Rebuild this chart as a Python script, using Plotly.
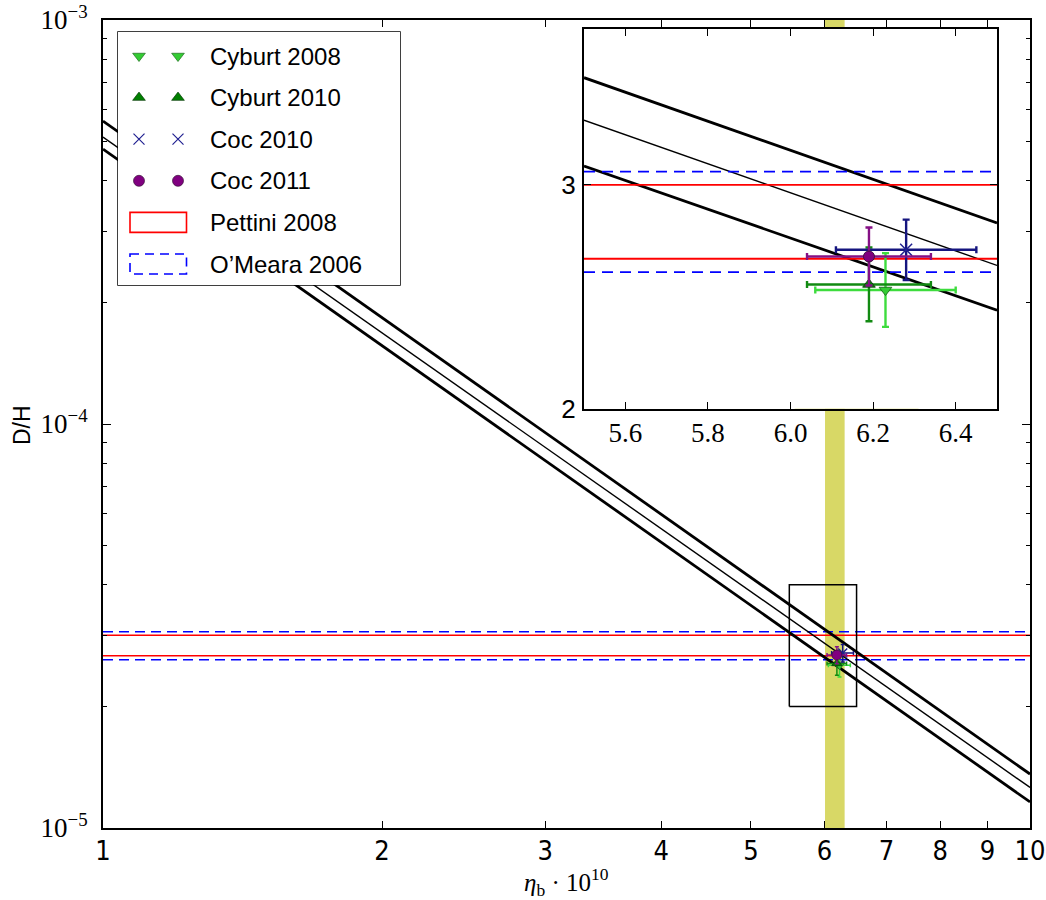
import plotly.graph_objects as go

# ---- data -----------------------------------------------------------------
# BBN prediction for D/H versus eta_b (central value and 1-sigma envelope)
eta_main = [1.0, 10.0]
dh_high_main = [5.62e-4, 1.36e-5]
dh_mid_main = [5.13e-4, 1.26e-5]
dh_low_main = [4.79e-4, 1.16e-5]

# same prediction inside the zoomed window (D/H in units of 1e-5)
eta_zoom = [5.5, 6.5]
dh_high_zoom = [3.48, 2.83]
dh_mid_zoom = [3.29, 2.64]
dh_low_zoom = [3.085, 2.44]

# WMAP baryon density band
eta_band = [6.01, 6.31]

# observed D/H ranges (units of 1e-5)
pettini_2008 = [2.67, 3.00]
omeara_2006 = [2.61, 3.06]

# network calculations
series_names = ["Cyburt 2008", "Cyburt 2010", "Coc 2010", "Coc 2011"]
series_eta = [6.23, 6.19, 6.28, 6.19]
series_eta_err = [0.17, 0.15, 0.17, 0.15]
series_dh = [2.53, 2.555, 2.71, 2.68]
series_dh_err = [0.165, 0.165, 0.135, 0.13]

# zoom window drawn on the main panel
zoom_eta = [5.5, 6.5]
zoom_dh = [2.0e-5, 4.0e-5]

# tick labels
x_main_ticks = [1, 2, 3, 4, 5, 6, 7, 8, 9, 10]
y_main_ticks = [1e-5, 1e-4, 1e-3]
y_main_ticktext = ["10<sup>\u22125</sup>", "10<sup>\u22124</sup>", "10<sup>\u22123</sup>"]
x_zoom_ticks = [5.6, 5.8, 6.0, 6.2, 6.4]
x_zoom_ticktext = ["5.6", "5.8", "6.0", "6.2", "6.4"]
y_zoom_ticks = [2, 3]

# ---- styles ---------------------------------------------------------------
SANS_N = "DejaVu Sans Condensed, Liberation Sans Narrow, Liberation Sans, Arial, sans-serif"
SANS_W = "Liberation Sans, Arial, sans-serif"
SERIF = "Liberation Serif, DejaVu Serif, serif"
BAND = "rgb(216,216,102)"

styles = {
    "Cyburt 2008": dict(symbol="triangle-down", fill="#33cc33", edge="#1d6b1d", err="#3ddc3d"),
    "Cyburt 2010": dict(symbol="triangle-up", fill="#008000", edge="#0b3d0b", err="#128a12"),
    "Coc 2010": dict(symbol="x-thin", fill="#202090", edge="#202090", err="#15157f"),
    "Coc 2011": dict(symbol="circle", fill="#800080", edge="#3a103a", err="#851085"),
}

W, H = 1046, 900
ML, MR, MT, MB = 103, 16, 20, 72
PW, PH = W - ML - MR, H - MT - MB


def px_x(px):
    return (px - ML) / PW


def px_y(py):
    return (H - MB - py) / PH


fig = go.Figure()

# ---- main panel -------------------------------------------------------------
for lo_hi, col, dash in ((pettini_2008, "red", "solid"), (omeara_2006, "blue", "dash")):
    for v in lo_hi:
        fig.add_trace(go.Scatter(x=eta_main, y=[v * 1e-5, v * 1e-5], mode="lines",
                                 line=dict(color=col, width=1.6,
                                           dash="solid" if dash == "solid" else "10px,6px"),
                                 xaxis="x", yaxis="y", showlegend=False, hoverinfo="skip"))

for ys, w in ((dh_high_main, 2.8), (dh_mid_main, 1.4), (dh_low_main, 2.8)):
    fig.add_trace(go.Scatter(x=eta_main, y=ys, mode="lines", line=dict(color="black", width=w),
                             xaxis="x", yaxis="y", showlegend=False, hoverinfo="skip"))

fig.add_trace(go.Scatter(
    x=[zoom_eta[0], zoom_eta[1], zoom_eta[1], zoom_eta[0], zoom_eta[0]],
    y=[zoom_dh[0], zoom_dh[0], zoom_dh[1], zoom_dh[1], zoom_dh[0]],
    mode="lines", line=dict(color="black", width=1.5),
    xaxis="x", yaxis="y", showlegend=False, hoverinfo="skip"))

for name, ex, exe, dy, dye in zip(series_names, series_eta, series_eta_err, series_dh, series_dh_err):
    st = styles[name]
    is_x = st["symbol"] == "x-thin"
    fig.add_trace(go.Scatter(
        x=[ex], y=[dy * 1e-5], mode="markers",
        marker=dict(symbol=st["symbol"], size=9 if is_x else (10 if name == "Coc 2011" else 9),
                    color=st["fill"], line=dict(color=st["edge"], width=1.5 if is_x else 0.8)),
        error_x=dict(type="data", array=[exe], color=st["err"], thickness=1.5, width=2),
        error_y=dict(type="data", array=[dye * 1e-5], color=st["err"], thickness=1.5, width=2),
        xaxis="x", yaxis="y", showlegend=False, hoverinfo="skip"))

# ---- zoomed panel -------------------------------------------------------------
for ys, w in ((dh_high_zoom, 2.8), (dh_mid_zoom, 1.4), (dh_low_zoom, 2.8)):
    fig.add_trace(go.Scatter(x=eta_zoom, y=ys, mode="lines", line=dict(color="black", width=w),
                             xaxis="x2", yaxis="y2", showlegend=False, hoverinfo="skip"))

for lo_hi, col, dash in ((pettini_2008, "red", "solid"), (omeara_2006, "blue", "dash")):
    for v in lo_hi:
        fig.add_trace(go.Scatter(x=eta_zoom, y=[v, v], mode="lines",
                                 line=dict(color=col, width=1.8,
                                           dash="solid" if dash == "solid" else "11px,7px"),
                                 xaxis="x2", yaxis="y2", showlegend=False, hoverinfo="skip"))

for name, ex, exe, dy, dye in zip(series_names, series_eta, series_eta_err, series_dh, series_dh_err):
    st = styles[name]
    is_x = st["symbol"] == "x-thin"
    fig.add_trace(go.Scatter(
        x=[ex], y=[dy], mode="markers",
        marker=dict(symbol=st["symbol"], size=12 if is_x else 11,
                    color=st["fill"], line=dict(color=st["edge"], width=1.5 if is_x else 0.9)),
        error_x=dict(type="data", array=[exe], color=st["err"], thickness=2.4, width=3.5),
        error_y=dict(type="data", array=[dye], color=st["err"], thickness=2.4, width=3.5),
        xaxis="x2", yaxis="y2", showlegend=False, hoverinfo="skip"))

# ---- legend panel ---------------------------------------------------------------
LEG_X0, LEG_X1, LEG_Y0, LEG_Y1 = 118, 400, 32, 285
row_y0, row_dy = 24, 41.6
mark_x = [21, 60]
text_x = 90

for i, name in enumerate(series_names):
    st = styles[name]
    is_x = st["symbol"] == "x-thin"
    yy = row_y0 + i * row_dy
    fig.add_trace(go.Scatter(
        x=mark_x, y=[yy, yy], mode="markers",
        marker=dict(symbol=st["symbol"], size=11,
                    color=st["fill"], line=dict(color=st["edge"], width=1.2 if is_x else 0.7)),
        xaxis="x3", yaxis="y3", showlegend=False, hoverinfo="skip"))

legend_labels = series_names + ["Pettini 2008", "O\u2019Meara 2006"]

common = dict(showgrid=False, zeroline=False, automargin=False, ticklabeloverflow="allow",
              showline=True, linewidth=2, linecolor="black", mirror="ticks",
              ticks="inside", tickwidth=1, tickcolor="black")

fig.update_layout(
    width=W, height=H,
    margin=dict(l=ML, r=MR, t=MT, b=MB, pad=0, autoexpand=False),
    paper_bgcolor="white", plot_bgcolor="white",
    showlegend=False,
    xaxis=dict(type="log", range=[0, 1], domain=[0, 1], anchor="y",
               tickvals=x_main_ticks, ticktext=[str(v) for v in x_main_ticks], ticklen=7,
               tickfont=dict(family=SANS_N, size=27, color="black"), ticklabelstandoff=-2, **common),
    yaxis=dict(type="log", range=[-5, -3], domain=[0, 1], anchor="x",
               tickvals=y_main_ticks, ticktext=y_main_ticktext, ticklen=8,
               minor=dict(tickvals=[m * 10 ** e for e in (-5, -4) for m in range(2, 10)],
                          ticks="inside", ticklen=4, tickcolor="black", tickwidth=1),
               tickfont=dict(family=SERIF, size=27, color="black"), ticklabelstandoff=8, **common),
    xaxis2=dict(range=[5.5, 6.5], domain=[px_x(584), px_x(997)], anchor="y2",
                tickvals=x_zoom_ticks, ticktext=x_zoom_ticktext, ticklen=7,
                tickfont=dict(family=SERIF, size=27, color="black"), ticklabelstandoff=-1, **common),
    yaxis2=dict(range=[2, 3.7], domain=[px_y(408.5), px_y(28.5)], anchor="x2",
                tickvals=y_zoom_ticks, ticktext=[str(v) for v in y_zoom_ticks], ticklen=7,
                tickfont=dict(family=SANS_W, size=26, color="black"), ticklabelstandoff=1, **common),
    xaxis3=dict(range=[0, LEG_X1 - LEG_X0], domain=[px_x(LEG_X0), px_x(LEG_X1)], anchor="y3",
                visible=False, fixedrange=True),
    yaxis3=dict(range=[LEG_Y1 - LEG_Y0, 0], domain=[px_y(LEG_Y1), px_y(LEG_Y0)], anchor="x3",
                visible=False, fixedrange=True),
)

shapes = [
    # WMAP band on the main panel
    dict(type="rect", xref="x", yref="y domain", x0=eta_band[0], x1=eta_band[1], y0=0, y1=1,
         fillcolor=BAND, line=dict(width=0), layer="below"),
    # opaque background for the zoomed panel
    dict(type="rect", xref="x2 domain", yref="y2 domain", x0=0, x1=1, y0=0, y1=1,
         fillcolor="white", line=dict(width=0), layer="below"),
    dict(type="rect", xref="x2", yref="y2 domain", x0=eta_band[0], x1=eta_band[1], y0=0, y1=1,
         fillcolor=BAND, line=dict(width=0), layer="below"),
    # legend frame
    dict(type="rect", xref="x3 domain", yref="y3 domain", x0=0, x1=1, y0=0, y1=1,
         fillcolor="white", line=dict(color="black", width=1.5), layer="below"),
]
# legend patches for the observational ranges
for i, (col, dash) in enumerate((("red", "solid"), ("blue", "dash"))):
    yy = row_y0 + (4 + i) * row_dy
    shapes.append(dict(type="rect", xref="x3", yref="y3", x0=12, x1=68.5, y0=yy - 10, y1=yy + 10,
                       fillcolor="rgba(0,0,0,0)",
                       line=dict(color=col, width=1.6, dash="solid" if dash == "solid" else "9px,6px"),
                       layer="above"))
fig.update_layout(shapes=shapes)

annotations = []
for i, lab in enumerate(legend_labels):
    annotations.append(dict(xref="x3", yref="y3", x=text_x, y=row_y0 + i * row_dy, text=lab,
                            showarrow=False, xanchor="left", yanchor="middle",
                            font=dict(family=SANS_W, size=24, color="black")))
annotations.append(dict(xref="paper", yref="paper", x=px_x(22), y=px_y(425), text="D/H",
                        textangle=-90, showarrow=False, xanchor="center", yanchor="middle",
                        font=dict(family=SANS_W, size=23, color="black")))
annotations.append(dict(xref="paper", yref="paper", x=0.5, y=px_y(882),
                        text="<i>\u03b7</i><sub>b</sub> \u00b7 10<sup>10</sup>",
                        showarrow=False, xanchor="center", yanchor="middle",
                        font=dict(family=SERIF, size=25, color="black")))
fig.update_layout(annotations=annotations)

fig.write_html("out.html")
